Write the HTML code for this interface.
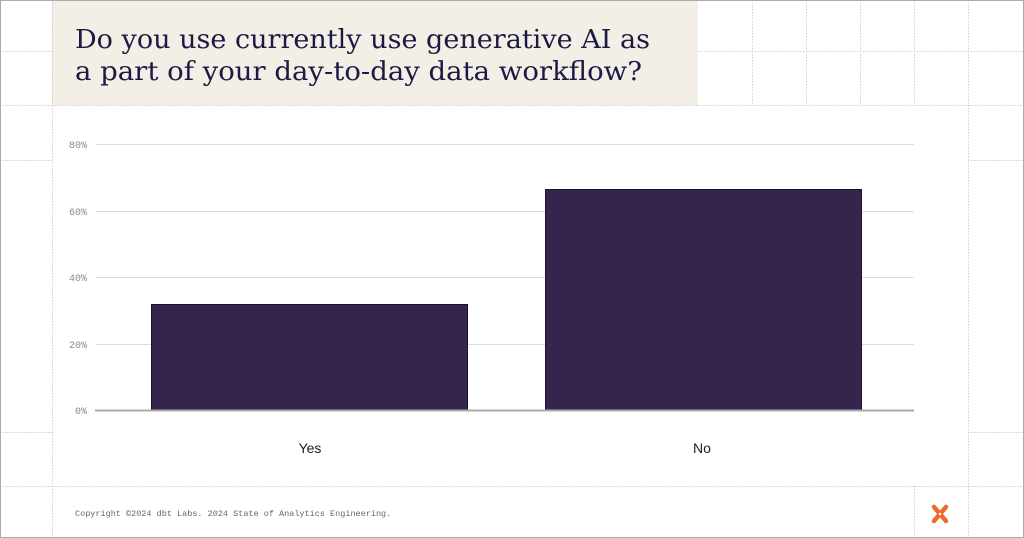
<!DOCTYPE html>
<html><head><meta charset="utf-8"><style>
html,body{margin:0;padding:0;background:#fff;}
svg{display:block;}
</style></head><body>
<svg width="1024" height="538" xmlns="http://www.w3.org/2000/svg">
<rect x="0" y="0" width="1024" height="538" fill="#fff"/>
<rect x="52" y="0" width="646" height="105" fill="#f3efe6"/>
<g stroke="#cfcfcf" stroke-width="1" stroke-dasharray="1.5,1.5" fill="none">
<line x1="52.5" y1="0" x2="52.5" y2="538"/>
<line x1="968.5" y1="0" x2="968.5" y2="538"/>
<line x1="752.5" y1="0" x2="752.5" y2="105"/>
<line x1="806.5" y1="0" x2="806.5" y2="105"/>
<line x1="860.5" y1="0" x2="860.5" y2="105"/>
<line x1="914.5" y1="0" x2="914.5" y2="105"/>
<line x1="914.5" y1="486" x2="914.5" y2="538"/>
<line x1="0" y1="51.5" x2="52" y2="51.5"/>
<line x1="698" y1="51.5" x2="1024" y2="51.5"/>
<line x1="0" y1="105.5" x2="1024" y2="105.5"/>
<line x1="0" y1="160.5" x2="52" y2="160.5"/>
<line x1="968" y1="160.5" x2="1024" y2="160.5"/>
<line x1="0" y1="432.5" x2="52" y2="432.5"/>
<line x1="968" y1="432.5" x2="1024" y2="432.5"/>
<line x1="0" y1="486.5" x2="1024" y2="486.5"/>
</g>
<text x="75" y="48" font-family="DejaVu Serif, serif" font-size="26" fill="#1c1a45" textLength="575" lengthAdjust="spacingAndGlyphs">Do you use currently use generative AI as</text>
<text x="75" y="80" font-family="DejaVu Serif, serif" font-size="26" fill="#1c1a45" textLength="567" lengthAdjust="spacingAndGlyphs">a part of your day-to-day data workflow?</text>
<g stroke="#dcdcdc" stroke-width="1">
<line x1="96" y1="144.5" x2="914" y2="144.5"/>
<line x1="96" y1="211.5" x2="914" y2="211.5"/>
<line x1="96" y1="277.5" x2="914" y2="277.5"/>
<line x1="96" y1="344.5" x2="914" y2="344.5"/>
</g>
<g font-family="Liberation Mono, monospace" font-size="10" fill="#888" text-anchor="end">
<text x="87" y="148">80%</text>
<text x="87" y="215">60%</text>
<text x="87" y="281">40%</text>
<text x="87" y="348">20%</text>
<text x="87" y="414">0%</text>
</g>
<rect x="151.5" y="304.5" width="316" height="106" fill="#35254c" stroke="#1a1230" stroke-width="1"/>
<rect x="545.5" y="189.5" width="316" height="221" fill="#35254c" stroke="#1a1230" stroke-width="1"/>
<line x1="95" y1="410.5" x2="914" y2="410.5" stroke="#aaa" stroke-width="2"/>
<g font-family="Liberation Sans, sans-serif" font-size="14" fill="#1c1a2e" text-anchor="middle">
<text x="310" y="453">Yes</text>
<text x="702" y="453">No</text>
</g>
<text x="75" y="516" font-family="Liberation Mono, monospace" font-size="8.5" fill="#666">Copyright ©2024 dbt Labs. 2024 State of Analytics Engineering.</text>
<g transform="translate(940,514)" stroke="#f06a2a" stroke-width="4.5" stroke-linecap="round">
<line x1="-6" y1="-7" x2="6" y2="7"/>
<line x1="6" y1="-7" x2="-6" y2="7"/>
</g>
<circle cx="940" cy="514" r="1.3" fill="#fff"/>
<rect x="0.5" y="0.5" width="1023" height="537" fill="none" stroke="#aaa" stroke-width="1"/>
</svg>
</body></html>
